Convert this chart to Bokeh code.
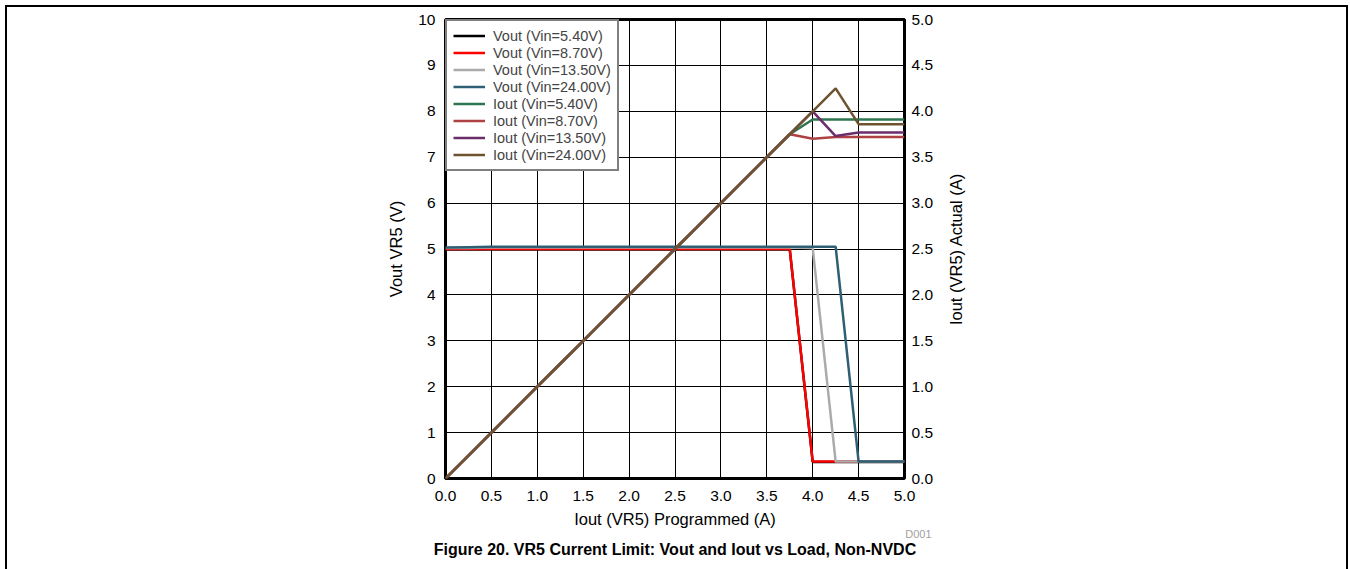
from bokeh.plotting import figure
from bokeh.layouts import row
from bokeh.models import (Range1d, LinearAxis, SingleIntervalTicker, Legend, LegendItem,
                          Title, PrintfTickFormatter, FixedTicker)
from bokeh.embed import file_html
from bokeh.resources import INLINE

# ---- data ----
iout_prog = [0.0, 0.25, 0.5, 0.75, 1.0, 1.25, 1.5, 1.75, 2.0, 2.25, 2.5,
             2.75, 3.0, 3.25, 3.5, 3.75, 4.0, 4.25, 4.5, 4.75, 5.0]

vout_5p40 = [4.99, 4.99, 4.99, 4.99, 4.99, 4.99, 4.99, 4.99, 4.99, 4.99, 4.99,
             4.99, 4.99, 4.99, 4.99, 4.99, 0.36, 0.36, 0.36, 0.36, 0.36]
vout_8p70 = [5.0, 5.0, 5.0, 5.0, 5.0, 5.0, 5.0, 5.0, 5.0, 5.0, 5.0,
             5.0, 5.0, 5.0, 5.0, 5.0, 0.37, 0.37, 0.37, 0.37, 0.37]
vout_13p50 = [5.02, 5.02, 5.03, 5.03, 5.03, 5.03, 5.03, 5.03, 5.03, 5.03, 5.03,
              5.03, 5.03, 5.03, 5.03, 5.03, 5.02, 0.37, 0.37, 0.37, 0.37]
vout_24p00 = [5.03, 5.04, 5.05, 5.05, 5.05, 5.05, 5.05, 5.05, 5.05, 5.05, 5.05,
              5.05, 5.05, 5.05, 5.05, 5.05, 5.05, 5.05, 0.37, 0.37, 0.37]

iout_5p40 = [0.0, 0.25, 0.5, 0.75, 1.0, 1.25, 1.5, 1.75, 2.0, 2.25, 2.5,
             2.75, 3.0, 3.25, 3.5, 3.75, 3.91, 3.91, 3.91, 3.91, 3.91]
iout_8p70 = [0.0, 0.25, 0.5, 0.75, 1.0, 1.25, 1.5, 1.75, 2.0, 2.25, 2.5,
             2.75, 3.0, 3.25, 3.5, 3.75, 3.70, 3.72, 3.72, 3.72, 3.72]
iout_13p50 = [0.0, 0.25, 0.5, 0.75, 1.0, 1.25, 1.5, 1.75, 2.0, 2.25, 2.5,
              2.75, 3.0, 3.25, 3.5, 3.75, 4.0, 3.73, 3.77, 3.77, 3.77]
iout_24p00 = [0.0, 0.25, 0.5, 0.75, 1.0, 1.25, 1.5, 1.75, 2.0, 2.25, 2.5,
              2.75, 3.0, 3.25, 3.5, 3.75, 4.0, 4.25, 3.86, 3.86, 3.86]

vout_series = [("Vout (Vin=5.40V)", vout_5p40, "#000000"),
               ("Vout (Vin=8.70V)", vout_8p70, "#ff0000"),
               ("Vout (Vin=13.50V)", vout_13p50, "#ababab"),
               ("Vout (Vin=24.00V)", vout_24p00, "#2e5f74")]
iout_series = [("Iout (Vin=5.40V)", iout_5p40, "#2e7550"),
               ("Iout (Vin=8.70V)", iout_8p70, "#ae4242"),
               ("Iout (Vin=13.50V)", iout_13p50, "#6b2d6b"),
               ("Iout (Vin=24.00V)", iout_24p00, "#6f5330")]

x_label = "Iout (VR5) Programmed (A)"
y_label = "Vout VR5 (V)"
y2_label = "Iout (VR5) Actual (A)"
caption = "Figure 20. VR5 Current Limit: Vout and Iout vs Load, Non-NVDC"
fig_id = "D001"

FONT = "Liberation Sans"
GRAD2 = "linear-gradient(#000,#000), linear-gradient(#000,#000)"

# ---------- main chart ----------
p = figure(width=940, height=569, output_backend="svg", toolbar_location=None,
           x_range=Range1d(0, 5), y_range=Range1d(0, 10),
           min_border_left=445, min_border_right=36, min_border_top=19,
           min_border_bottom=91)
p.extra_y_ranges = {"right": Range1d(0, 5)}
p.background_fill_color = "white"
p.border_fill_color = None
p.outline_line_color = "black"
p.outline_line_width = 3
p.styles = {
    "background-color": "white",
    "background-image": GRAD2,
    "background-repeat": "no-repeat",
    "background-position": "5px 5px, 5px 5px",
    "background-size": "935px 2px, 2px 700px",
}

xax = p.xaxis[0]
yax = p.yaxis[0]
xax.ticker = SingleIntervalTicker(interval=0.5)
yax.ticker = SingleIntervalTicker(interval=1)
xax.formatter = PrintfTickFormatter(format="%.1f")
yax.formatter = PrintfTickFormatter(format="%d")

ax2 = LinearAxis(y_range_name="right", ticker=SingleIntervalTicker(interval=0.5),
                 formatter=PrintfTickFormatter(format="%.1f"))
p.add_layout(ax2, "right")

for ax in [xax, yax, ax2]:
    ax.axis_line_color = None
    ax.major_tick_line_color = None
    ax.minor_tick_line_color = None
    ax.major_label_text_font = FONT
    ax.major_label_text_font_size = "15.5px"
    ax.major_label_text_color = "black"
    ax.axis_label_text_font = FONT
    ax.axis_label_text_font_size = "16.5px"
    ax.axis_label_text_font_style = "normal"
    ax.axis_label_text_color = "black"

xax.axis_label = x_label
yax.axis_label = y_label
xax.major_label_standoff = 6
xax.axis_label_standoff = 6
yax.major_label_standoff = 4
yax.axis_label_standoff = 10
ax2.major_label_standoff = 1

p.xgrid.ticker = SingleIntervalTicker(interval=0.5)
p.ygrid.ticker = SingleIntervalTicker(interval=1)
p.grid.grid_line_color = "black"
p.grid.grid_line_width = 1
p.grid.grid_line_alpha = 1.0

items = []
for name, ys, col in vout_series:
    r = p.line(iout_prog, ys, line_color=col, line_width=2.5)
    items.append(LegendItem(label=name, renderers=[r]))
for name, ys, col in iout_series:
    r = p.line(iout_prog, ys, line_color=col, line_width=2.5, y_range_name="right")
    items.append(LegendItem(label=name, renderers=[r]))

legend = Legend(items=items, location="top_left", margin=0, padding=6, spacing=0,
                label_height=17, glyph_height=17, glyph_width=32, label_standoff=8,
                label_text_font=FONT, label_text_font_size="14.5px",
                border_line_color="black", border_line_width=2,
                background_fill_color="white", background_fill_alpha=1.0)
p.add_layout(legend, "center")

p.add_layout(Title(text=fig_id, align="right", offset=-27, standoff=-10,
                   text_font=FONT, text_font_size="11px", text_font_style="normal",
                   text_color="#a0a0a0"), "below")
p.add_layout(Title(text=caption, align="center", standoff=8,
                   text_font=FONT, text_font_size="16px", text_font_style="bold",
                   text_color="black"), "below")

# ---------- right-hand strip holding the secondary axis title (reads bottom-to-top) ----------
p2 = figure(width=410, height=569, output_backend="svg", toolbar_location=None,
            x_range=Range1d(0, 5), y_range=Range1d(0, 5),
            min_border_left=24, min_border_right=0, min_border_top=19,
            min_border_bottom=91)
p2.background_fill_color = None
p2.border_fill_color = None
p2.outline_line_color = None
p2.grid.visible = False
p2.xaxis.visible = False
lax = p2.yaxis[0]
lax.ticker = FixedTicker(ticks=[])
lax.axis_line_color = None
lax.major_tick_line_color = None
lax.minor_tick_line_color = None
lax.major_tick_out = 0
lax.major_label_standoff = 0
lax.axis_label = y2_label
lax.axis_label_standoff = 0
lax.axis_label_text_font = FONT
lax.axis_label_text_font_size = "16.5px"
lax.axis_label_text_font_style = "normal"
lax.axis_label_text_color = "black"
p2.styles = {
    "background-color": "white",
    "background-image": GRAD2,
    "background-repeat": "no-repeat",
    "background-position": "0px 5px, 406px 5px",
    "background-size": "408px 2px, 2px 700px",
}

layout = row(p, p2, spacing=0)
open("out.html", "w").write(file_html(layout, INLINE))
